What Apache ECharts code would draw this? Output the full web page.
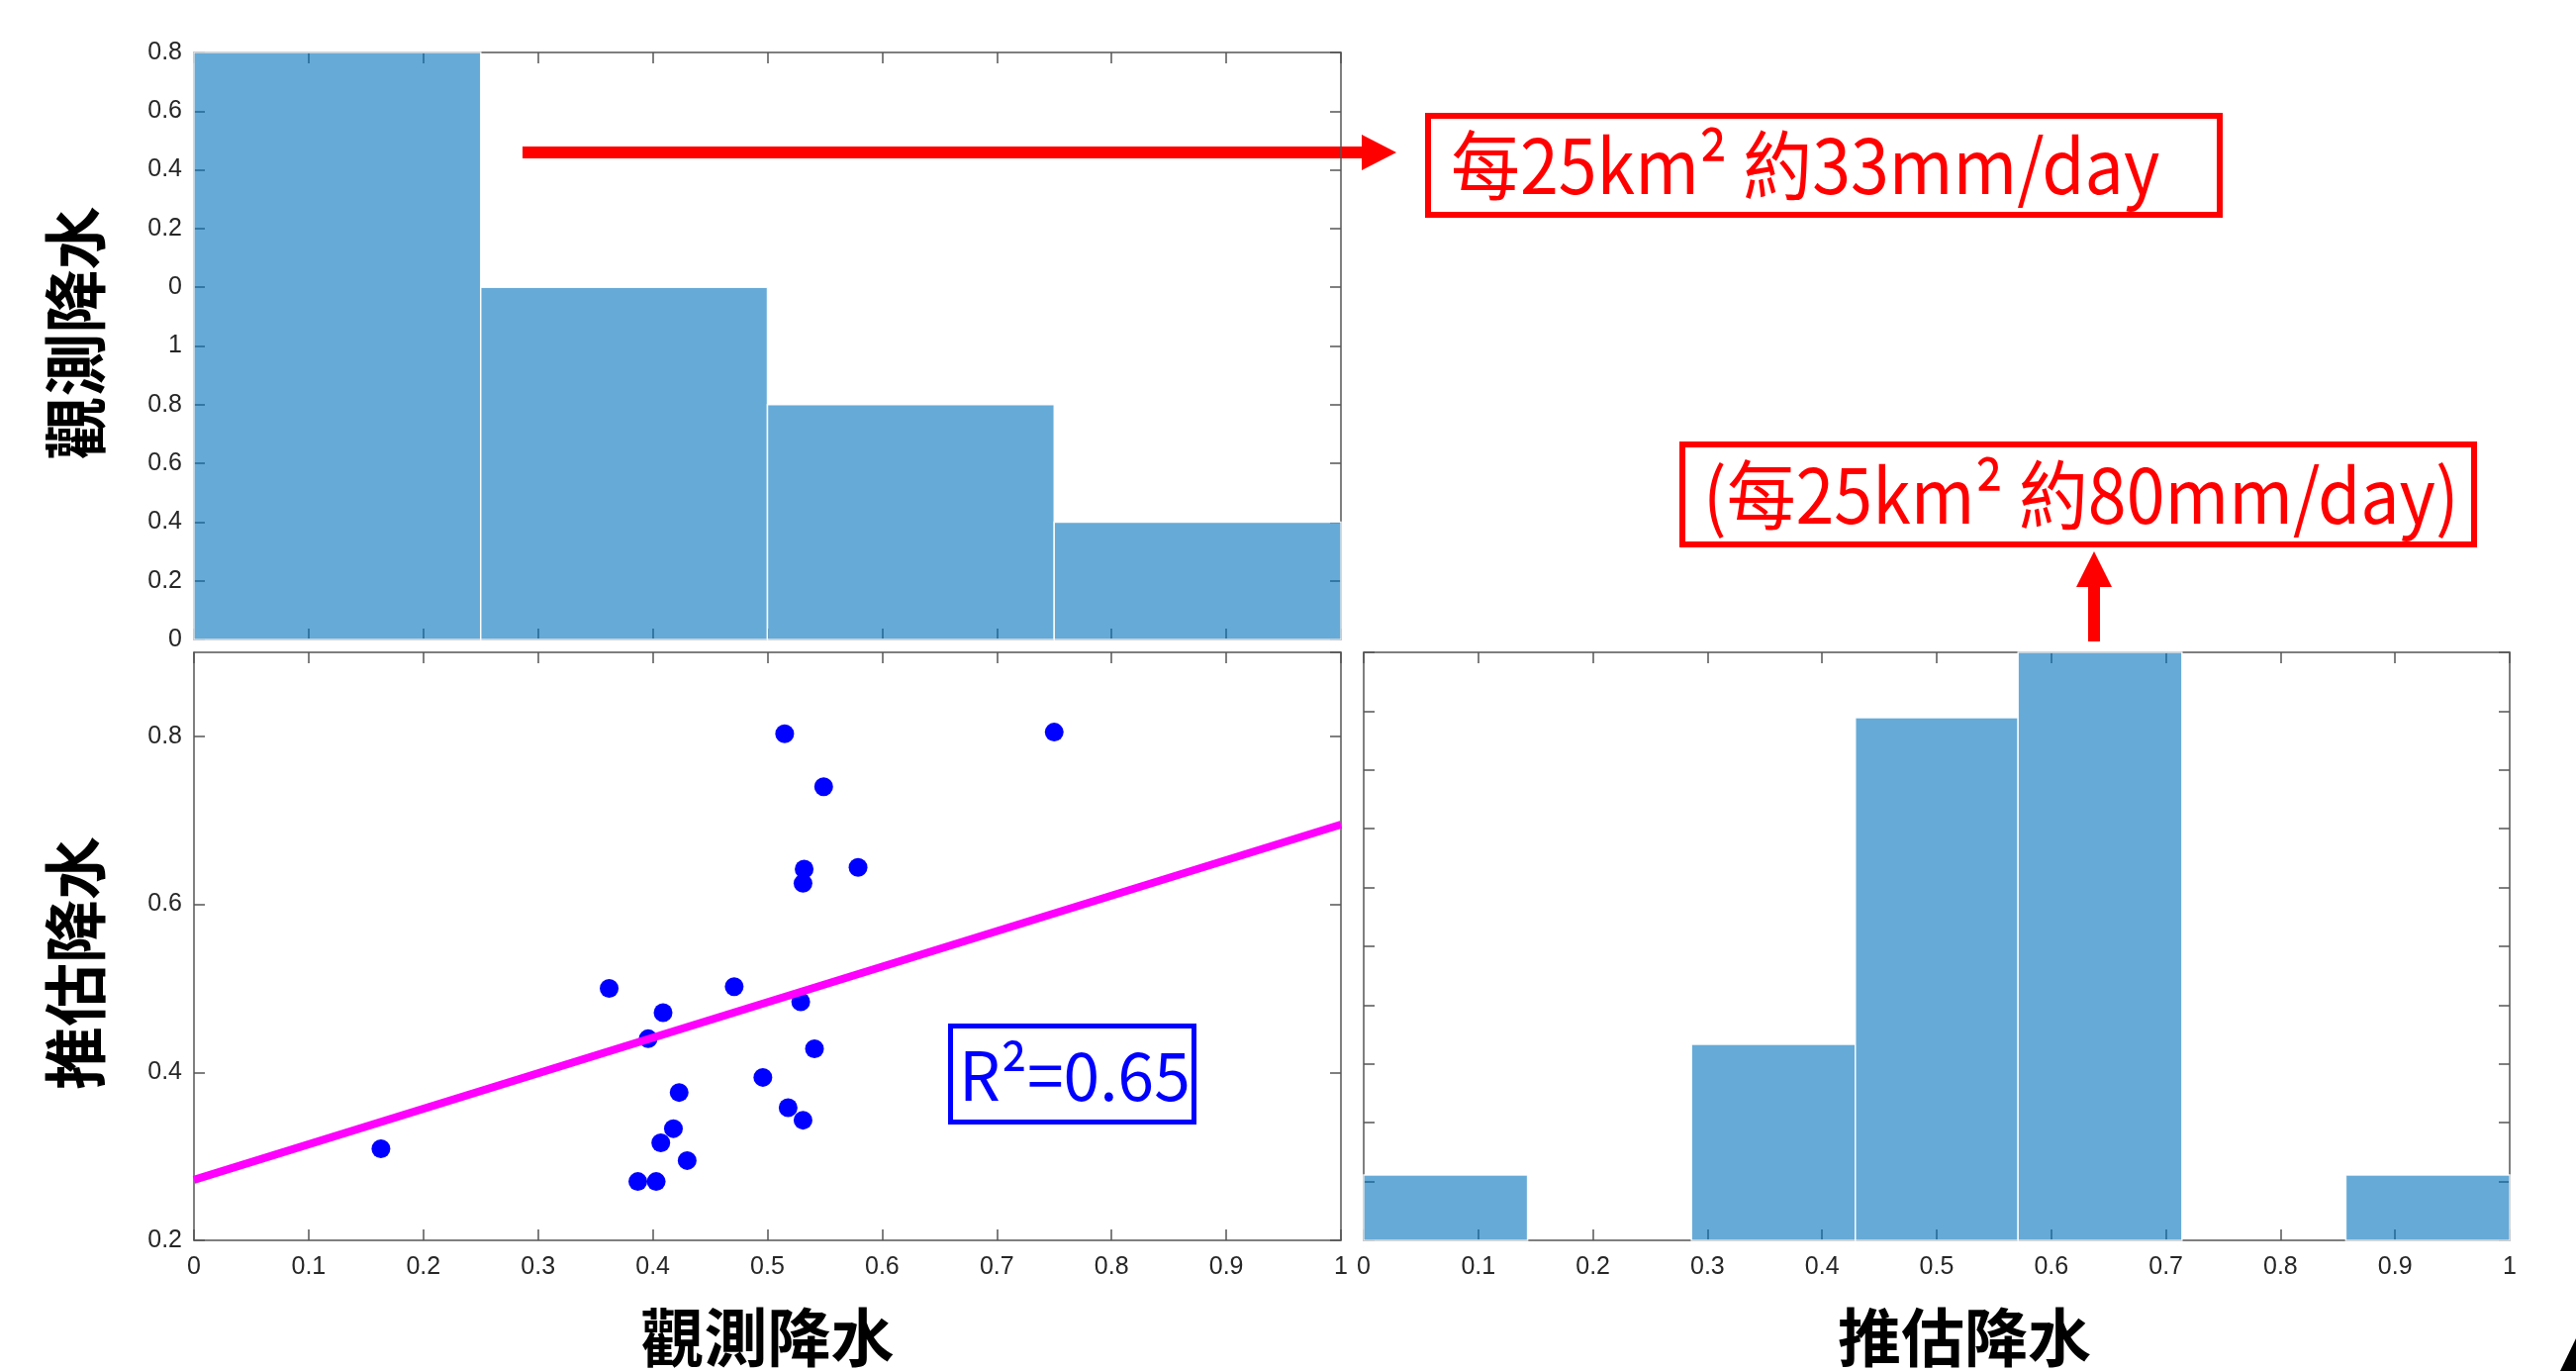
<!DOCTYPE html>
<html>
<head>
<meta charset="utf-8">
<script src="https://cdn.jsdelivr.net/npm/echarts@6/dist/echarts.min.js"></script>
<style>
  html, body { margin: 0; padding: 0; background: #fff; }
  #chart { width: 2603px; height: 1385px; }
</style>
</head>
<body>
<div id="chart"></div>
<script>
// top histogram (observed), heights in tick steps
const obsBinEdges = [0, 0.25, 0.5, 0.75, 1];
const obsHeights = [10, 6, 4, 2];
const obsTickLabels = ['0', '0.2', '0.4', '0.6', '0.8', '1', '0', '0.2', '0.4', '0.6', '0.8'];

// right histogram (estimated), counts per bin
const estBinEdges = [0, 0.143, 0.286, 0.429, 0.571, 0.714, 0.857, 1];
const estCounts = [1, 0, 3, 8, 9, 0, 1];

// scatter: [observed, estimated]
const points = [
  [0.163, 0.309], [0.362, 0.500], [0.409, 0.471], [0.396, 0.440], [0.423, 0.376],
  [0.418, 0.333], [0.407, 0.316], [0.430, 0.295], [0.387, 0.270], [0.403, 0.270],
  [0.515, 0.803], [0.750, 0.805], [0.549, 0.740], [0.532, 0.642], [0.531, 0.625],
  [0.579, 0.644], [0.471, 0.502], [0.529, 0.484], [0.541, 0.428], [0.496, 0.394],
  [0.518, 0.358], [0.531, 0.343]
];
const fitLine = [[0, 0.272], [1, 0.695]];

const xTicks = 0.1;
const axisColor = '#555';
const labelFont = 'Liberation Sans';
const cjkFont = 'Noto Sans CJK TC';

const toBins = (edges, values) => values.map((v, i) => [edges[i], edges[i + 1], v]);

const histItem = (params, api) => {
  if (api.value(2) === 0) return null;
  const p0 = api.coord([api.value(0), api.value(2)]);
  const p1 = api.coord([api.value(1), 0]);
  return {
    type: 'rect',
    shape: { x: p0[0], y: p0[1], width: p1[0] - p0[0], height: p1[1] - p0[1] },
    style: { fill: 'rgba(0,114,189,0.6)', stroke: 'rgba(255,255,255,0.9)', lineWidth: 1.5 }
  };
};

const boxAxis = (extra) => Object.assign({
  type: 'value',
  axisLine: { show: true, onZero: false, lineStyle: { color: axisColor, width: 1.5 } },
  axisTick: { show: true, inside: true, length: 11, lineStyle: { color: axisColor, width: 1.5 } },
  axisLabel: { show: false },
  splitLine: { show: false }
}, extra);

const tickLabel = (extra) => Object.assign({
  show: true, fontSize: 25, fontFamily: labelFont, color: '#262626'
}, extra);

const axisName = (extra) => Object.assign({
  fontSize: 64, fontWeight: 'bold', fontFamily: cjkFont, color: '#000'
}, extra);

// annotation text, squeezed a little to match the narrow source font
const note = (x, y, text, color, size, squeeze) => ({
  type: 'text', x: x, y: y, scaleX: squeeze,
  style: {
    x: 0, y: 0, text: text, fill: color,
    fontSize: size, fontFamily: cjkFont, textAlign: 'left', textVerticalAlign: 'middle'
  }
});

const chart = echarts.init(document.getElementById('chart'));

const option = {
  animation: false,
  backgroundColor: '#fff',
  grid: [
    { left: 196, top: 53, width: 1159, height: 593 },
    { left: 196, top: 659, width: 1159, height: 594 },
    { left: 1378, top: 659, width: 1158, height: 594 }
  ],
  xAxis: [
    boxAxis({ gridIndex: 0, position: 'bottom', min: 0, max: 1, interval: xTicks }),
    boxAxis({ gridIndex: 0, position: 'top', min: 0, max: 1, interval: xTicks }),
    boxAxis({
      gridIndex: 1, position: 'bottom', min: 0, max: 1, interval: xTicks,
      axisLabel: tickLabel({ margin: 15 }),
      name: '觀測降水', nameLocation: 'middle', nameGap: 66, nameTextStyle: axisName({})
    }),
    boxAxis({ gridIndex: 1, position: 'top', min: 0, max: 1, interval: xTicks }),
    boxAxis({
      gridIndex: 2, position: 'bottom', min: 0, max: 1, interval: xTicks,
      axisLabel: tickLabel({ margin: 15 }),
      name: '推估降水', nameLocation: 'middle', nameGap: 66,
      nameTextStyle: axisName({ padding: [0, 0, 0, 56] })
    }),
    boxAxis({ gridIndex: 2, position: 'top', min: 0, max: 1, interval: xTicks })
  ],
  yAxis: [
    boxAxis({
      gridIndex: 0, position: 'left', min: 0, max: 10, interval: 1,
      axisLabel: tickLabel({ margin: 12, formatter: (v) => obsTickLabels[Math.round(v)] }),
      name: '觀測降水', nameLocation: 'middle', nameGap: 88,
      nameTextStyle: axisName({ padding: [0, 0, 0, 26] })
    }),
    boxAxis({ gridIndex: 0, position: 'right', min: 0, max: 10, interval: 1 }),
    boxAxis({
      gridIndex: 1, position: 'left', min: 0.2, max: 0.9, interval: 0.2,
      axisLabel: tickLabel({ margin: 12, showMaxLabel: false }),
      name: '推估降水', nameLocation: 'middle', nameGap: 88,
      nameTextStyle: axisName({ padding: [0, 34, 0, 0] })
    }),
    boxAxis({ gridIndex: 1, position: 'right', min: 0.2, max: 0.9, interval: 0.2 }),
    boxAxis({ gridIndex: 2, position: 'left', min: 0, max: 9, interval: 0.9 }),
    boxAxis({ gridIndex: 2, position: 'right', min: 0, max: 9, interval: 0.9 })
  ],
  series: [
    {
      type: 'custom', name: 'obs', xAxisIndex: 0, yAxisIndex: 0,
      renderItem: histItem, data: toBins(obsBinEdges, obsHeights)
    },
    {
      type: 'custom', name: 'est', xAxisIndex: 4, yAxisIndex: 4,
      renderItem: histItem, data: toBins(estBinEdges, estCounts)
    },
    {
      type: 'scatter', xAxisIndex: 2, yAxisIndex: 2,
      symbolSize: 19, itemStyle: { color: '#0000ff', opacity: 1 },
      data: points
    },
    {
      type: 'line', xAxisIndex: 2, yAxisIndex: 2, z: 5,
      symbol: 'none', lineStyle: { color: '#ff00ff', width: 8 },
      data: fitLine
    }
  ],
  graphic: [
    // arrow to the 33mm box
    { type: 'rect', shape: { x: 528, y: 148, width: 850, height: 12 }, style: { fill: '#ff0000' } },
    { type: 'polygon', shape: { points: [[1376, 136], [1411, 154], [1376, 172]] }, style: { fill: '#ff0000' } },
    { type: 'rect', shape: { x: 1443, y: 117, width: 800, height: 100 }, style: { fill: 'none', stroke: '#ff0000', lineWidth: 6 } },
    note(1466, 167, '每25km² 約33mm/day', '#ff0000', 76, 0.92),
    // up arrow to the 80mm box
    { type: 'rect', shape: { x: 2110, y: 590, width: 12, height: 58 }, style: { fill: '#ff0000' } },
    { type: 'polygon', shape: { points: [[2098, 593], [2116, 557], [2134, 593]] }, style: { fill: '#ff0000' } },
    { type: 'rect', shape: { x: 1700, y: 449, width: 800, height: 101 }, style: { fill: 'none', stroke: '#ff0000', lineWidth: 6 } },
    note(1721, 500, '(每25km² 約80mm/day)', '#ff0000', 76, 0.92),
    // R² box
    { type: 'rect', shape: { x: 960.5, y: 1036.5, width: 246, height: 97 }, style: { fill: '#fff', stroke: '#0000ff', lineWidth: 5 } },
    note(969, 1086, 'R²=0.65', '#0000ff', 68, 0.97),
    { type: 'polygon', shape: { points: [[2587, 1385], [2603, 1352], [2603, 1385]] }, style: { fill: '#000' } }
  ]
};

chart.setOption(option);
</script>
</body>
</html>
